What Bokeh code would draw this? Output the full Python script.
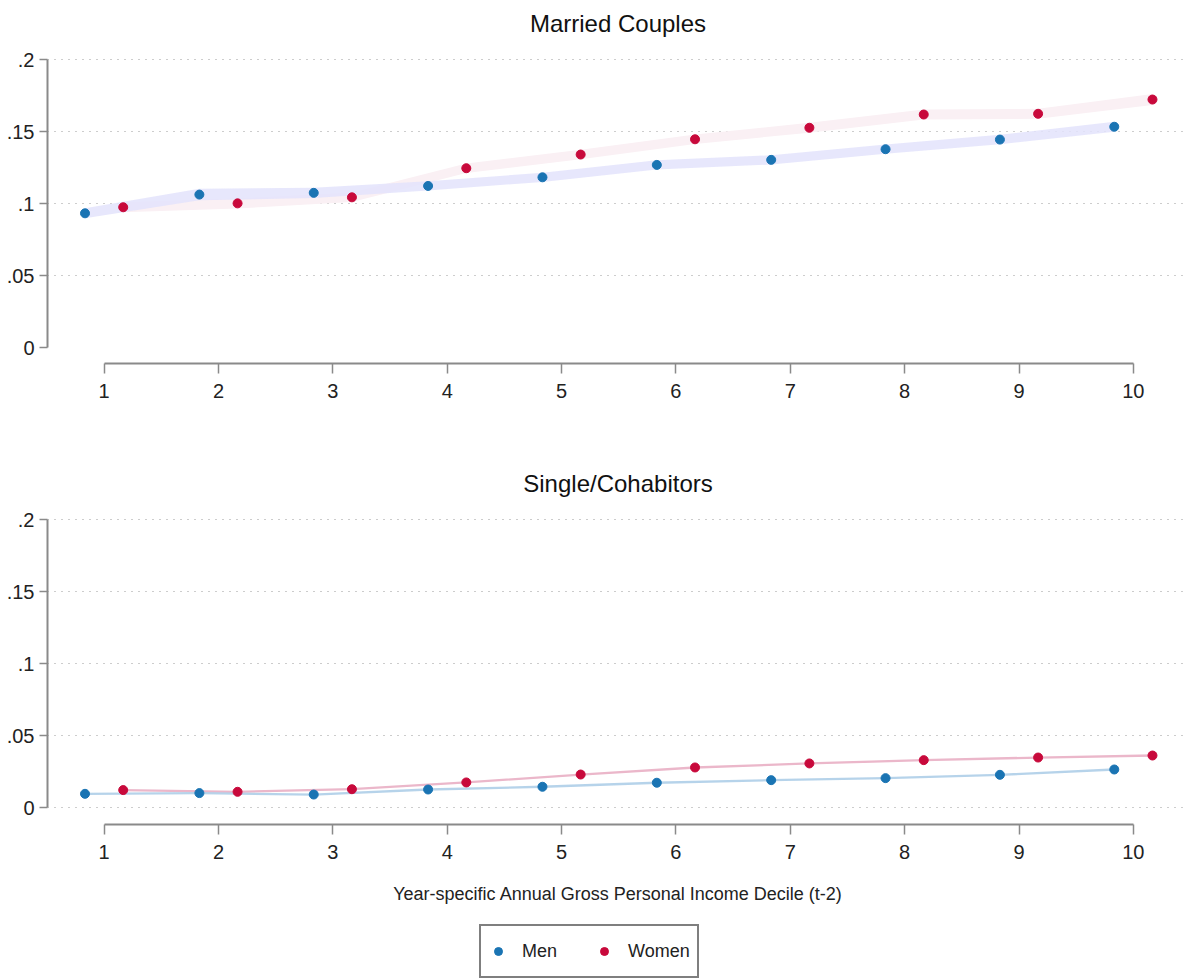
from bokeh.plotting import figure
from bokeh.layouts import column
from bokeh.models import ColumnDataSource, FixedTicker, Range1d, Legend, LegendItem
from bokeh.transform import dodge
from bokeh.embed import file_html
from bokeh.resources import INLINE

# ---------------- data ----------------
deciles = [1, 2, 3, 4, 5, 6, 7, 8, 9, 10]

married_men = [0.0932, 0.1062, 0.1074, 0.1122, 0.1182, 0.1268, 0.1303, 0.1377, 0.1444, 0.1533]
married_women = [0.0974, 0.1001, 0.1043, 0.1245, 0.1340, 0.1446, 0.1526, 0.1618, 0.1623, 0.1722]
married_men_hw = [0.0035, 0.0040, 0.0035, 0.0032, 0.0032, 0.0032, 0.0032, 0.0032, 0.0033, 0.0035]
married_women_hw = [0.0035, 0.0035, 0.0033, 0.0033, 0.0033, 0.0033, 0.0034, 0.0034, 0.0035, 0.0038]

single_men = [0.0095, 0.0100, 0.0090, 0.0125, 0.0144, 0.0172, 0.0190, 0.0204, 0.0227, 0.0264]
single_women = [0.0121, 0.0109, 0.0127, 0.0174, 0.0229, 0.0278, 0.0306, 0.0329, 0.0347, 0.0361]
single_men_hw = [0.0008] * 10
single_women_hw = [0.0008] * 10

y_ticks = [0, 0.05, 0.1, 0.15, 0.2]
y_tick_labels = ["0", ".05", ".1", ".15", ".2"]

titles = ["Married Couples", "Single/Cohabitors"]
x_label = "Year-specific Annual Gross Personal Income Decile (t-2)"
series_names = ["Men", "Women"]

# ---------------- styles ----------------
MEN_COLOR = "#1a74b3"
WOMEN_COLOR = "#c8093b"
MEN_SHIFT = -0.167
WOMEN_SHIFT = 0.167
FONT = "Liberation Sans"
AXIS_COLOR = "#8a8a8a"
W = 1188
Y_END = 0.21181
PX_PER_UNIT = 1440.0


def make_panel(title, men, women, men_hw, women_hw, band_colors, height,
               top_border, bottom_border, grid_ticks):
    src = ColumnDataSource(dict(
        decile=deciles,
        men=men, women=women,
        men_lo=[v - h for v, h in zip(men, men_hw)],
        men_hi=[v + h for v, h in zip(men, men_hw)],
        women_lo=[v - h for v, h in zip(women, women_hw)],
        women_hi=[v + h for v, h in zip(women, women_hw)],
    ))
    frame_h = height - top_border - bottom_border
    p = figure(width=W, height=height,
               x_range=Range1d(0.505, 10.482),
               y_range=Range1d(Y_END - frame_h / PX_PER_UNIT, Y_END),
               output_backend="svg", toolbar_location=None,
               min_border_left=47, min_border_right=0,
               min_border_top=top_border, min_border_bottom=bottom_border,
               title=title)
    p.outline_line_color = None
    p.background_fill_color = "white"
    p.border_fill_color = "white"

    p.title.align = "center"
    p.title.text_font = FONT
    p.title.text_font_size = "24px"
    p.title.text_font_style = "normal"
    p.title.text_color = "#111111"
    p.title.standoff = 12

    # grid
    p.xgrid.visible = False
    p.ygrid.ticker = FixedTicker(ticks=grid_ticks)
    p.ygrid.grid_line_color = "#9a9a9a"
    p.ygrid.grid_line_width = 1.2
    p.ygrid.grid_line_dash = "1 6"

    # axes
    p.xaxis.ticker = FixedTicker(ticks=deciles)
    p.xaxis.bounds = (deciles[0], deciles[-1])
    p.yaxis.ticker = FixedTicker(ticks=y_ticks)
    p.yaxis.bounds = (y_ticks[0], y_ticks[-1])
    p.yaxis.major_label_overrides = dict(zip(y_ticks, y_tick_labels))
    for ax in (p.xaxis[0], p.yaxis[0]):
        ax.axis_line_color = AXIS_COLOR
        ax.axis_line_width = 2
        ax.major_tick_line_color = AXIS_COLOR
        ax.major_tick_line_width = 1.5
        ax.major_tick_in = 0
        ax.minor_tick_out = 0
        ax.minor_tick_in = 0
        ax.major_label_text_font = FONT
        ax.major_label_text_font_size = "20px"
        ax.major_label_text_color = "#222222"
    p.xaxis.major_tick_out = 10
    p.xaxis.major_label_standoff = 10
    p.yaxis.major_tick_out = 8
    p.yaxis.major_label_standoff = 5

    # confidence bands
    p.varea(x=dodge("decile", WOMEN_SHIFT), y1="women_lo", y2="women_hi",
            source=src, fill_color=band_colors[1], fill_alpha=1.0)
    p.varea(x=dodge("decile", MEN_SHIFT), y1="men_lo", y2="men_hi",
            source=src, fill_color=band_colors[0], fill_alpha=0.85)

    p.scatter(x=dodge("decile", MEN_SHIFT), y="men", source=src,
              size=9, fill_color=MEN_COLOR, line_color=MEN_COLOR)
    p.scatter(x=dodge("decile", WOMEN_SHIFT), y="women", source=src,
              size=9, fill_color=WOMEN_COLOR, line_color=WOMEN_COLOR)
    return p


top = make_panel(titles[0], married_men, married_women,
                 married_men_hw, married_women_hw,
                 ("#e3e3fb", "#faf0f4"), 420, 42, 57, y_ticks[1:])

bottom = make_panel(titles[1], single_men, single_women,
                    single_men_hw, single_women_hw,
                    ("#a9cbe6", "#ebb7ca"), 495, 82, 91, y_ticks)

bottom.xaxis.axis_label = x_label
bottom.xaxis.axis_label_text_font = FONT
bottom.xaxis.axis_label_text_font_size = "18px"
bottom.xaxis.axis_label_text_font_style = "normal"
bottom.xaxis.axis_label_text_color = "#222222"
bottom.xaxis.axis_label_standoff = 22

# ---------------- legend strip ----------------
# The legend strip's ranges sit away from the data, so its renderers only
# supply the legend glyphs.
leg = figure(width=W, height=63, x_range=Range1d(-2, -1), y_range=Range1d(1, 2),
             output_backend="svg", toolbar_location=None,
             x_axis_location=None, y_axis_location=None,
             min_border_left=0, min_border_right=0, min_border_top=0, min_border_bottom=0)
leg.grid.visible = False
leg.outline_line_color = None
r_men = leg.scatter(x=deciles, y=single_men, size=9,
                    fill_color=MEN_COLOR, line_color=MEN_COLOR)
r_women = leg.scatter(x=deciles, y=single_women, size=9,
                      fill_color=WOMEN_COLOR, line_color=WOMEN_COLOR)
legend = Legend(items=[LegendItem(label=series_names[0], renderers=[r_men]),
                       LegendItem(label=series_names[1], renderers=[r_women])],
                orientation="horizontal", location=(432, 0),
                border_line_color="black", border_line_width=2,
                label_text_font=FONT, label_text_font_size="18px",
                label_text_color="#222222",
                glyph_width=20, glyph_height=36, label_standoff=14,
                spacing=37, padding=7, margin=0)
leg.add_layout(legend, "center")

layout = column(top, bottom, leg, spacing=0)
open("out.html", "w").write(file_html(layout, INLINE))
